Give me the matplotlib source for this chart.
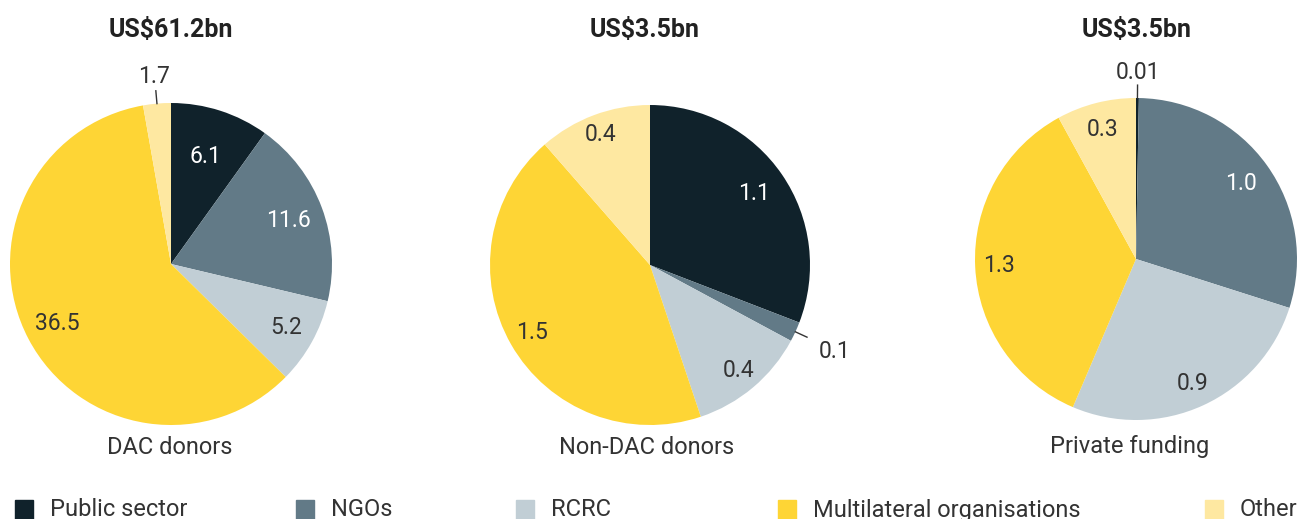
import matplotlib
matplotlib.use("Agg")
import matplotlib.pyplot as plt
from matplotlib.patches import Rectangle
import numpy as np

plt.rcParams['font.family'] = ['Roboto', 'DejaVu Sans']

categories = ['Public sector', 'NGOs', 'RCRC', 'Multilateral organisations', 'Other']
colors = ['#10222b', '#627a87', '#c1ced5', '#fed535', '#fee8a1']
text_colors = ['white', 'white', '#333333', '#333333', '#333333']

donor_groups = ['DAC donors', 'Non-DAC donors', 'Private funding']
totals = ['US$61.2bn', 'US$3.5bn', 'US$3.5bn']
# slice sizes (US$ bn)
dac_values = [6.06, 11.5, 5.3, 36.6, 1.7]
non_dac_values = [1.08, 0.07, 0.42, 1.53, 0.40]
private_values = [0.01, 1.04, 0.93, 1.25, 0.28]
# labels as printed on the chart
value_labels = [['6.1', '11.6', '5.2', '36.5', '1.7'],
                ['1.1', '0.1', '0.4', '1.5', '0.4'],
                ['0.01', '1.0', '0.9', '1.3', '0.3']]

W, H = 1297, 519
fig = plt.figure(figsize=(W / 100, H / 100), dpi=100)

# pixel layout of each pie: centre x, centre y, radius
layout = [(171, 264, 161), (650, 265, 160), (1136, 259, 161)]
title_x = [171, 645, 1137]
name_x = [170, 647, 1130]
# label distance per slice (None = outside with leader line)
label_dist = [[0.70, 0.78, 0.82, 0.80, None],
              [0.79, None, 0.86, 0.85, 0.87],
              [None, 0.80, 0.85, 0.85, 0.83]]
outside_dist = [[None, None, None, None, (1.19, 1.17)],
                [None, (1.27, 1.30), None, None, None],
                [(1.19, 1.16), None, None, None, None]]

all_values = [dac_values, non_dac_values, private_values]

for k, vals in enumerate(all_values):
    cx, cy, R = layout[k]
    ax = fig.add_axes([(cx - R) / W, (H - cy - R) / H, 2 * R / W, 2 * R / H])
    wedges, _ = ax.pie(vals, colors=colors, startangle=90, counterclock=False,
                       radius=1, wedgeprops=dict(linewidth=0))
    ax.set_xlim(-1, 1)
    ax.set_ylim(-1, 1)
    ax.set_aspect('equal')
    ax.axis('off')
    for i, w in enumerate(wedges):
        ang = np.deg2rad((w.theta1 + w.theta2) / 2)
        d = label_dist[k][i]
        if d is not None:
            ax.text(d * np.cos(ang), d * np.sin(ang), value_labels[k][i],
                    ha='center', va='center', fontsize=16.5,
                    color=text_colors[i])
        else:
            dx, dy = outside_dist[k][i]
            ax.plot([1.0 * np.cos(ang), 1.08 * np.cos(ang)],
                    [1.0 * np.sin(ang), 1.08 * np.sin(ang)],
                    color='#333333', lw=1, clip_on=False)
            ax.text(dx * np.cos(ang), dy * np.sin(ang), value_labels[k][i],
                    ha='center', va='center', fontsize=16.5, color='#333333')

    fig.text(title_x[k] / W, 1 - 30 / H, totals[k], ha='center', va='center',
             fontsize=18, fontweight='bold', color='#222222')
    fig.text(name_x[k] / W, 1 - 447 / H, donor_groups[k], ha='center',
             va='center', fontsize=17, color='#333333')

# legend
legend_x = [15, 296, 516, 778, 1205]
for i, name in enumerate(categories):
    x = legend_x[i]
    fig.patches.append(Rectangle((x / W, 0), 18 / W, 19 / H, color=colors[i],
                                 transform=fig.transFigure))
    fig.text((x + 35) / W, 9 / H, name, ha='left', va='center', fontsize=17,
             color='#333333')

fig.savefig('out.png', dpi=100)
